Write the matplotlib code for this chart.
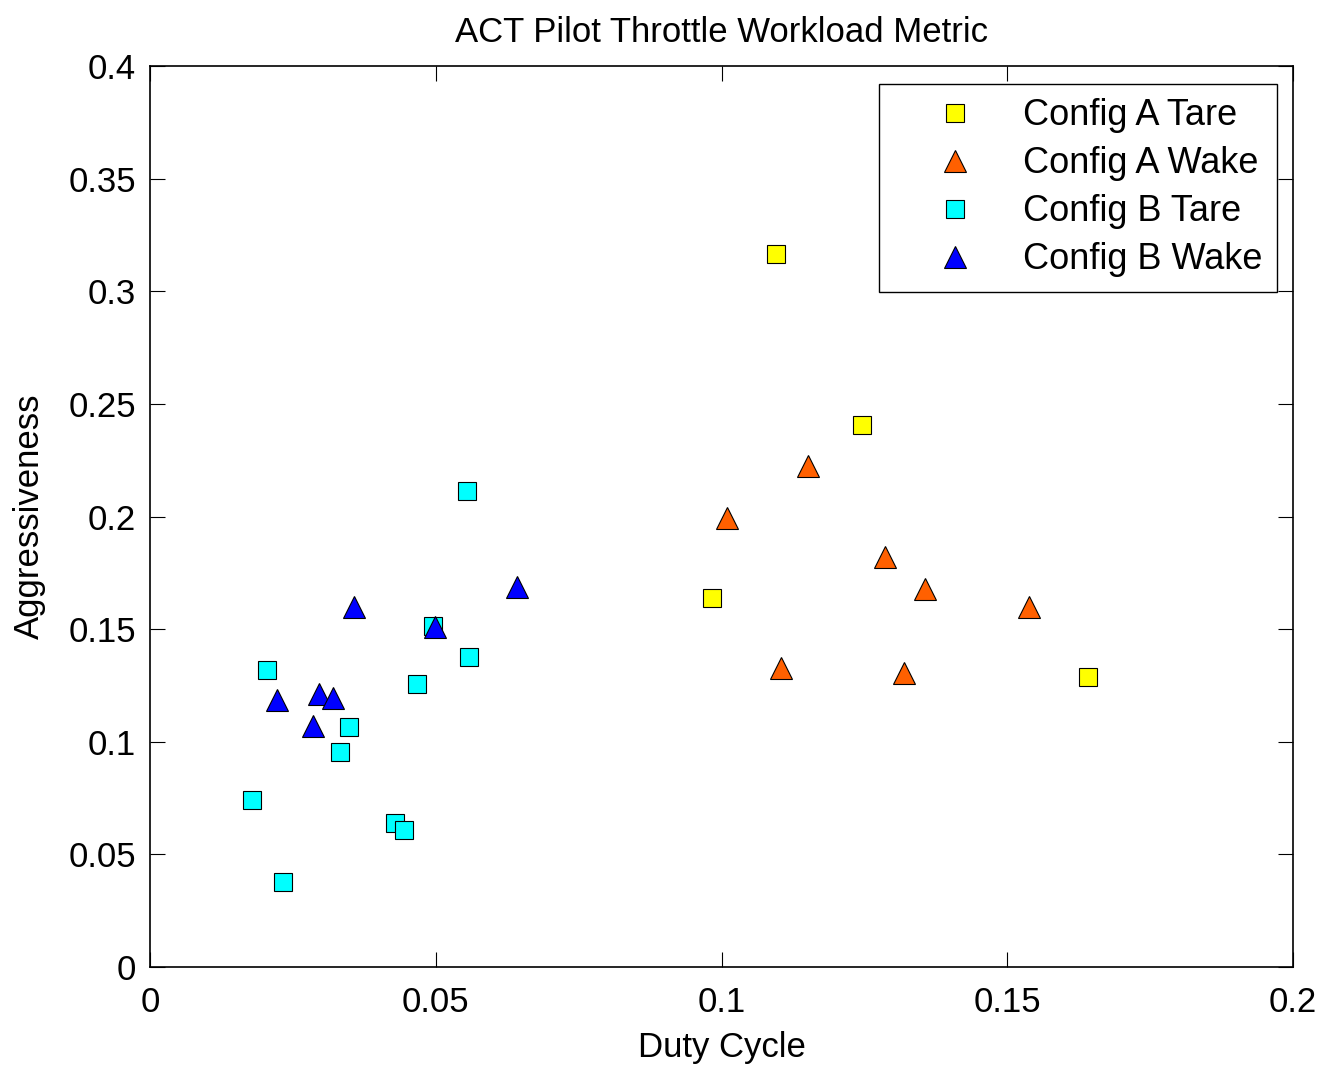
import matplotlib.pyplot as plt

plt.rcParams['font.family'] = ['Liberation Sans', 'DejaVu Sans']

# Config A Tare
a_tare_x = [0.1095, 0.1246, 0.0983, 0.1641]
a_tare_y = [0.3165, 0.2406, 0.1638, 0.1287]
# Config A Wake
a_wake_x = [0.1151, 0.1010, 0.1286, 0.1356, 0.1538, 0.1104, 0.1319]
a_wake_y = [0.2224, 0.1993, 0.1820, 0.1678, 0.1598, 0.1327, 0.1305]
# Config B Tare
b_tare_x = [0.0555, 0.0495, 0.0558, 0.0205, 0.0467, 0.0348, 0.0332, 0.0178, 0.0429, 0.0444, 0.0233]
b_tare_y = [0.2113, 0.1514, 0.1376, 0.1319, 0.1256, 0.1065, 0.0954, 0.0741, 0.0639, 0.0608, 0.0377]
# Config B Wake
b_wake_x = [0.0642, 0.0357, 0.0499, 0.0296, 0.0320, 0.0222, 0.0285]
b_wake_y = [0.1687, 0.1598, 0.1509, 0.1212, 0.1194, 0.1185, 0.1070]

fig = plt.figure(figsize=(13.24, 10.65), dpi=100)
ax = fig.add_axes([0.1133, 0.092, 0.8633, 0.846])

ax.plot(a_tare_x, a_tare_y, 's', ms=13, mfc='#ffff00', mec='black', mew=0.8, label='Config A Tare')
ax.plot(a_wake_x, a_wake_y, '^', ms=16, mfc='#ff6000', mec='black', mew=0.8, label='Config A Wake')
ax.plot(b_tare_x, b_tare_y, 's', ms=13, mfc='#00ffff', mec='black', mew=0.8, label='Config B Tare')
ax.plot(b_wake_x, b_wake_y, '^', ms=16, mfc='#0000ff', mec='black', mew=0.8, label='Config B Wake')

ax.set_xlim(0, 0.2)
ax.set_ylim(0, 0.4)
ax.set_xticks([0, 0.05, 0.1, 0.15, 0.2])
ax.set_xticklabels(['0', '0.05', '0.1', '0.15', '0.2'])
ax.set_yticks([0, 0.05, 0.1, 0.15, 0.2, 0.25, 0.3, 0.35, 0.4])
ax.set_yticklabels(['0', '0.05', '0.1', '0.15', '0.2', '0.25', '0.3', '0.35', '0.4'])
ax.tick_params(axis='both', direction='in', top=True, right=True, length=11, labelsize=25)
ax.tick_params(axis='x', pad=14)
ax.tick_params(axis='y', pad=10)
for s in ax.spines.values():
    s.set_linewidth(1.2)

ax.set_xlabel('Duty Cycle', fontsize=25, labelpad=8)
ax.set_ylabel('Aggressiveness', fontsize=25, labelpad=16)
ax.set_title('ACT Pilot Throttle Workload Metric', fontsize=25, pad=17)

leg = ax.legend(loc='upper right', bbox_to_anchor=(0.986, 0.98), fontsize=26, fancybox=False,
                edgecolor='black', framealpha=1, handlelength=3.4, handletextpad=0.2,
                labelspacing=0.36, borderpad=0.4, borderaxespad=0.0)
leg.get_frame().set_linewidth(1.0)

plt.savefig('out.png', dpi=100)
